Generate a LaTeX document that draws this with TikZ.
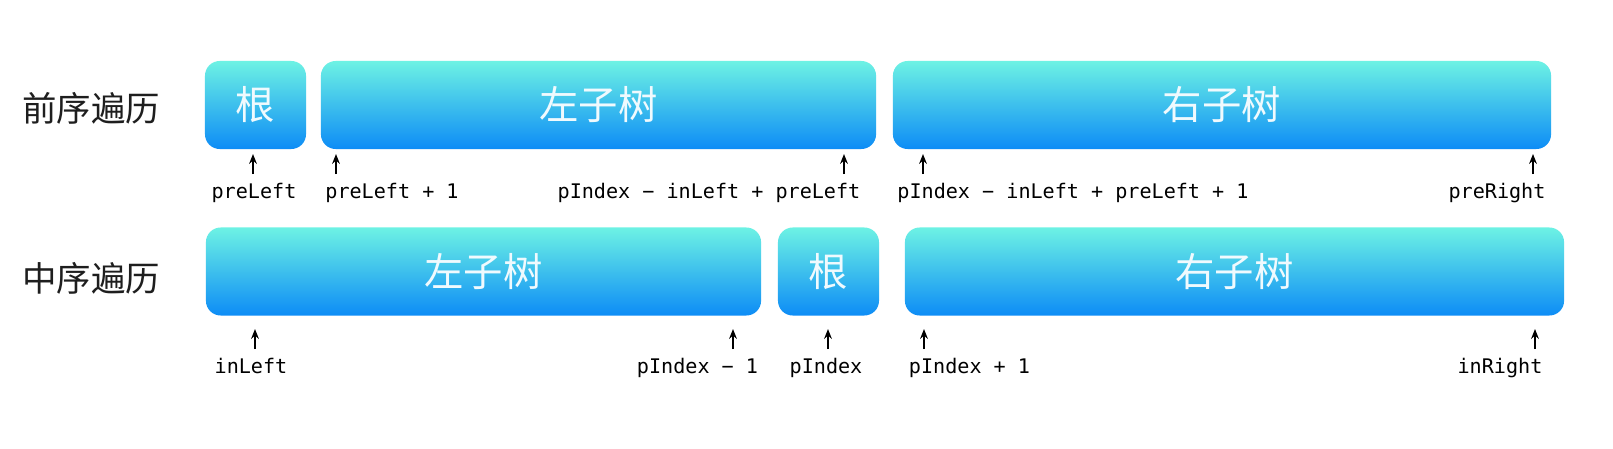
\documentclass[tikz,border=0pt]{standalone}
\usepackage{fontspec}
\usepackage{xcolor}
\usepackage{tikz}
\usetikzlibrary{positioning,arrows.meta}
\setmonofont{DejaVu Sans Mono}
\newfontfamily\cjk{Noto Sans CJK SC}
\definecolor{segtop}{HTML}{6DF2E4}
\definecolor{segbottom}{HTML}{0D8CF6}
\definecolor{rowgray}{HTML}{1E1E1E}

\tikzset{
  seg/.style={rounded corners=10.5pt, top color=segtop, bottom color=segbottom,
    draw=none, text=white!94!cyan, inner sep=0pt, minimum height=2.2cm,
    font=\cjk\fontsize{28}{30}\selectfont},
  rowname/.style={text=rowgray, inner sep=0pt, font=\cjk\fontsize{24.5}{26}\selectfont},
  idx/.style={anchor=base, inner sep=0pt, font=\ttfamily\fontsize{14.3}{16}\selectfont},
  ptr/.style={-{Stealth[length=7pt,width=5.5pt]}, line width=1.2pt}
}

\begin{document}
\begin{tikzpicture}[x=0.025cm, y=-0.025cm]
\useasboundingbox[fill=white] (0,0) rectangle (1613,448);

% row names
\node[rowname] (prename) at (91,108) {前序遍历};
\node[rowname] (inname) at (91,278) {中序遍历};

% preorder segments
\node[seg, minimum width=2.525cm] (preroot) at (255.5,105) {根};
\node[seg, minimum width=13.875cm] (preleft) at (598.5,105) {左子树};
\node[seg, minimum width=16.45cm] (preright) at (1222,105) {右子树};

% inorder segments
\node[seg, minimum width=13.875cm] (inleft) at (483.5,271.5) {左子树};
\node[seg, minimum width=2.525cm] (inroot) at (828.5,271.5) {根};
\node[seg, minimum width=16.475cm] (inright) at (1234.5,271.5) {右子树};

% preorder pointers
\coordinate (pa) at (253,174); \coordinate (pat) at (253,154);
\coordinate (pb) at (336,174); \coordinate (pbt) at (336,154);
\coordinate (pc) at (844,174); \coordinate (pct) at (844,154);
\coordinate (pd) at (923,174); \coordinate (pdt) at (923,154);
\coordinate (pe) at (1533,174); \coordinate (pet) at (1533,154);
\draw[ptr] (pa) -- (pat);
\draw[ptr] (pb) -- (pbt);
\draw[ptr] (pc) -- (pct);
\draw[ptr] (pd) -- (pdt);
\draw[ptr] (pe) -- (pet);
\node[idx] (prelbl) at (254,198.5) {preLeft};
\node[idx] (prelbl1) at (392,198.5) {preLeft + 1};
\node[idx] (prelbl2) at (709,198.5) {pIndex − inLeft + preLeft};
\node[idx] (prelbl3) at (1073,198.5) {pIndex − inLeft + preLeft + 1};
\node[idx] (prelbl4) at (1497,198.5) {preRight};

% inorder pointers
\coordinate (ia) at (255,349); \coordinate (iat) at (255,329);
\coordinate (ib) at (733,349); \coordinate (ibt) at (733,329);
\coordinate (ic) at (828,349); \coordinate (ict) at (828,329);
\coordinate (id) at (924,349); \coordinate (idt) at (924,329);
\coordinate (ie) at (1535,349); \coordinate (iet) at (1535,329);
\draw[ptr] (ia) -- (iat);
\draw[ptr] (ib) -- (ibt);
\draw[ptr] (ic) -- (ict);
\draw[ptr] (id) -- (idt);
\draw[ptr] (ie) -- (iet);
\node[idx] (inlbl) at (251,373) {inLeft};
\node[idx] (inlbl1) at (697.5,373) {pIndex − 1};
\node[idx] (inlbl2) at (826,373) {pIndex};
\node[idx] (inlbl3) at (969.5,373) {pIndex + 1};
\node[idx] (inlbl4) at (1500,373) {inRight};
\end{tikzpicture}
\end{document}
